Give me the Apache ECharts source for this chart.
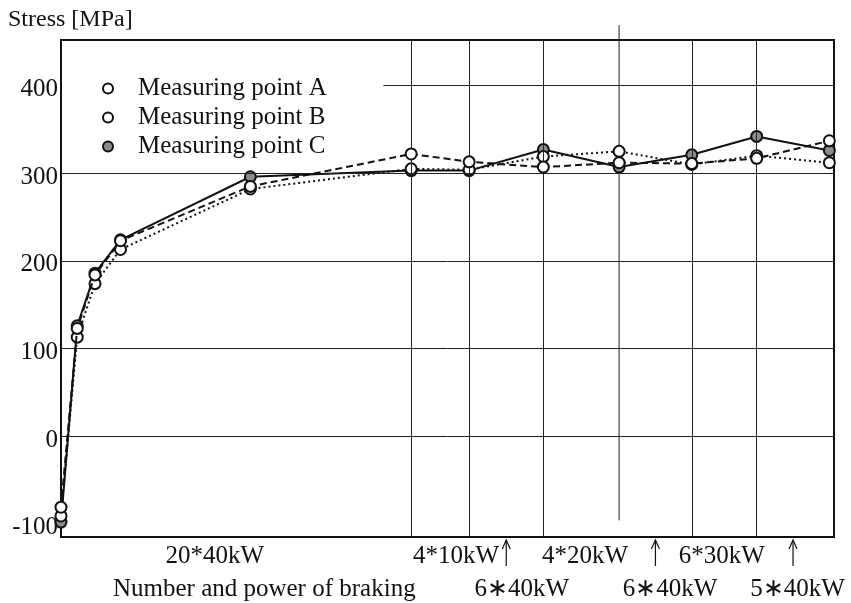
<!DOCTYPE html>
<html>
<head>
<meta charset="utf-8">
<script src="https://cdn.jsdelivr.net/npm/echarts@6/dist/echarts.min.js"></script>
<style>
  html, body { margin: 0; padding: 0; background: #fff; }
  #chart { width: 851px; height: 603px; }
</style>
</head>
<body>
<div id="chart"></div>
<script>
// Position of each measurement along the braking programme (0 = start, 100 = end of plot)
const stageX  = [0, 2.1, 4.4, 7.7, 24.5, 45.3, 52.8, 62.4, 72.2, 81.6, 90.0, 99.4];
// Residual stress [MPa] at the three measuring points
const stressA = [-81, 123, 184, 223, 285, 322, 313, 307, 312, 311, 317, 337];
const stressB = [-91, 113, 174, 213, 282, 305, 304, 319, 325, 310, 320, 312];
const stressC = [-98, 126, 186, 224, 296, 303, 303, 327, 307, 321, 342, 326];

const seriesNames = ['Measuring point A', 'Measuring point B', 'Measuring point C'];
const yTicks = [-100, 0, 100, 200, 300, 400];
const fullGridY = [0, 100, 200, 300];
const partialGridY = 400;
const partialGridStart = 41.7;
const boundaryX = [45.3, 52.8, 62.4, 81.6, 90.0];
const longBoundaryX = 72.2;
const longBoundaryRange = [469, -96];

// Braking programme annotations below the axis
const upperRowLabels = ['20*40kW', '4*10kW', '4*20kW', '6*30kW'];
const upperRowX = [19.9, 51.1, 67.8, 85.5];
const lowerRowLabels = ['Number and power of braking', '6\u221740kW', '6\u221740kW', '5\u221740kW'];
const lowerRowX = [26.3, 59.6, 78.8, 95.3];
const arrowX = [57.6, 76.9, 94.7];

const Y_MIN = -115, Y_MAX = 452;
const FONT = '"Liberation Serif", "Times New Roman", serif';
const INK = '#111';

const chart = echarts.init(document.getElementById('chart'));

function pairs(ys) { return stageX.map((x, i) => [x, ys[i]]); }

const gridLines = [];
fullGridY.forEach(v => gridLines.push([{ coord: [0, v] }, { coord: [100, v] }]));
gridLines.push([{ coord: [partialGridStart, partialGridY] }, { coord: [100, partialGridY] }]);
boundaryX.forEach(x => gridLines.push([{ coord: [x, Y_MIN] }, { coord: [x, Y_MAX] }]));

function dataSeries(name, ys, fill, dash, z) {
  return {
    name: name,
    type: 'line',
    data: pairs(ys),
    symbol: 'circle',
    symbolSize: 11,
    z: z,
    itemStyle: { color: fill, borderColor: INK, borderWidth: 2 },
    lineStyle: { color: INK, width: 2, type: dash },
    emphasis: { disabled: true },
    animation: false
  };
}

chart.setOption({
  backgroundColor: '#fff',
  animation: false,
  title: {
    text: 'Stress [MPa]',
    left: 3, top: 3,
    textStyle: { fontFamily: FONT, fontSize: 24, fontWeight: 'normal', color: INK }
  },
  legend: {
    orient: 'vertical',
    left: 97, top: 71,
    itemWidth: 10, itemHeight: 10, itemGap: 4,
    icon: 'circle',
    selectedMode: false,
    textStyle: { fontFamily: FONT, fontSize: 25, color: INK, padding: [0, 0, 0, 20] },
    data: [
      { name: seriesNames[0], itemStyle: { color: '#fff', borderColor: INK, borderWidth: 2 } },
      { name: seriesNames[1], itemStyle: { color: '#fff', borderColor: INK, borderWidth: 2 } },
      { name: seriesNames[2], itemStyle: { color: '#8c8c8c', borderColor: INK, borderWidth: 2 } }
    ]
  },
  grid: {
    left: 61, right: 17, top: 40, bottom: 66,
    show: true, borderColor: INK, borderWidth: 2
  },
  xAxis: {
    type: 'value', min: 0, max: 100,
    axisLine: { show: true, onZero: false, lineStyle: { color: INK, width: 2 } },
    axisTick: { show: false },
    axisLabel: { show: false },
    splitLine: { show: false }
  },
  yAxis: {
    type: 'value', min: Y_MIN, max: Y_MAX,
    axisLine: { show: true, onZero: false, lineStyle: { color: INK, width: 2 } },
    axisTick: { show: false },
    splitLine: { show: false },
    axisLabel: {
      customValues: yTicks,
      fontFamily: FONT, fontSize: 25, color: INK, margin: 3,
      verticalAlign: 'top', lineHeight: 8
    }
  },
  series: [
    {
      name: 'grid',
      type: 'line',
      data: [],
      z: 1,
      silent: true,
      clip: false,
      markLine: {
        silent: true,
        symbol: 'none',
        animation: false,
        label: { show: false },
        lineStyle: { color: '#222', width: 1, type: 'solid' },
        emphasis: { disabled: true },
        data: gridLines
      }
    },
    dataSeries(seriesNames[2], stressC, '#8c8c8c', 'solid', 3),
    dataSeries(seriesNames[1], stressB, '#fff', [2, 3], 4),
    dataSeries(seriesNames[0], stressA, '#fff', [7, 4], 5)
  ]
});

// Braking programme text, arrows and the long section divider
const toPx = (x, y) => chart.convertToPixel({ gridIndex: 0 }, [x, y]);
const axisY = toPx(0, Y_MIN)[1];
const px = x => toPx(x, 0)[0];
const upperY = axisY + 19;
const lowerY = axisY + 52;
const graphics = [];

const dividerTop = toPx(longBoundaryX, longBoundaryRange[0]);
const dividerBottom = toPx(longBoundaryX, longBoundaryRange[1]);
graphics.push({
  type: 'line', silent: true, z: 1,
  shape: { x1: dividerTop[0], y1: dividerTop[1], x2: dividerBottom[0], y2: dividerBottom[1] },
  style: { stroke: '#222', lineWidth: 1 }
});

upperRowLabels.forEach((t, i) => graphics.push({
  type: 'text', x: px(upperRowX[i]), y: upperY, silent: true,
  style: { text: t, fontFamily: FONT, fontSize: 25, fill: INK, align: 'center', verticalAlign: 'middle' }
}));
lowerRowLabels.forEach((t, i) => graphics.push({
  type: 'text', x: px(lowerRowX[i]), y: lowerY, silent: true,
  style: { text: t, fontFamily: FONT, fontSize: 25, fill: INK, align: 'center', verticalAlign: 'middle' }
}));
arrowX.forEach(x => {
  const cx = px(x);
  graphics.push({
    type: 'line', silent: true,
    shape: { x1: cx, y1: axisY + 3, x2: cx, y2: axisY + 29 },
    style: { stroke: INK, lineWidth: 1.2 }
  });
  graphics.push({
    type: 'polyline', silent: true,
    shape: { points: [[cx - 4, axisY + 12], [cx, axisY + 3], [cx + 4, axisY + 12]] },
    style: { stroke: INK, lineWidth: 1.2, fill: null }
  });
});
chart.setOption({ graphic: graphics });
</script>
</body>
</html>
